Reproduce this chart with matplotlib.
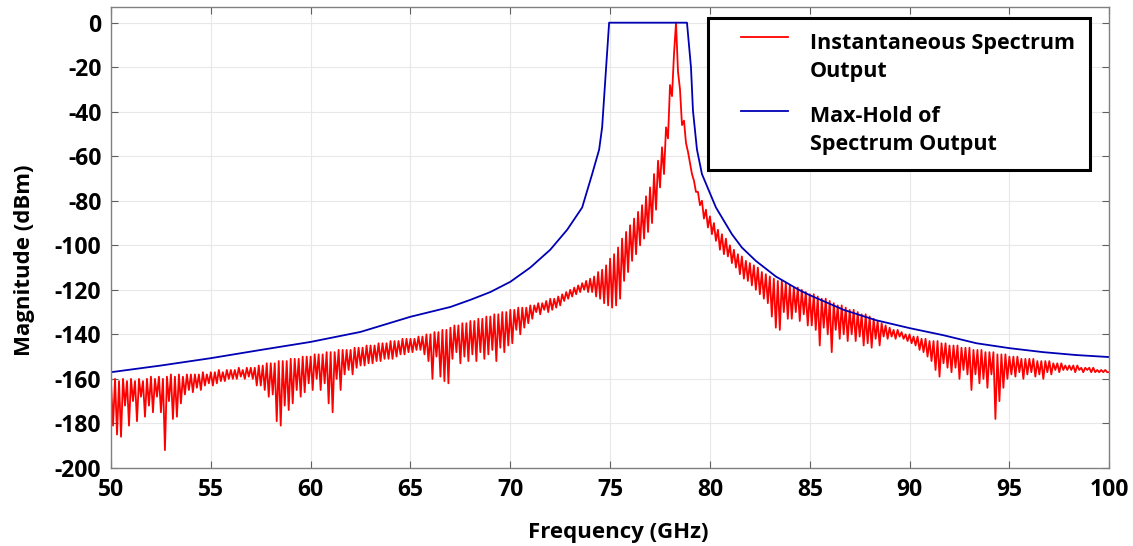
import numpy as np
import matplotlib
matplotlib.use('Agg')
import matplotlib.pyplot as plt
from matplotlib.legend_handler import HandlerLine2D

plt.rcParams['font.family'] = ['Open Sans', 'DejaVu Sans']
plt.rcParams['font.weight'] = 'bold'
plt.rcParams['axes.unicode_minus'] = False

# Instantaneous spectrum, sampled every 0.1 GHz from 50 to 100 GHz (one row per GHz)
red_start, red_step = 50.0, 0.1
red_db = [
    -162, -181, -160, -185, -161, -186, -160, -172, -161, -181,   # 50
    -160, -170, -161, -179, -160, -168, -161, -177, -160, -172,   # 51
    -159, -175, -160, -168, -159, -175, -160, -192, -159, -170,   # 52
    -158, -178, -159, -177, -158, -171, -159, -167, -158, -165,   # 53
    -158, -166, -158, -164, -158, -165, -157, -163, -158, -162,   # 54
    -157, -163, -157, -162, -156, -161, -157, -161, -156, -160,   # 55
    -156, -160, -156, -160, -155, -159, -156, -160, -155, -159,   # 56
    -155, -160, -155, -163, -154, -163, -154, -165, -153, -168,   # 57
    -153, -167, -153, -179, -152, -181, -152, -172, -152, -174,   # 58
    -151, -171, -151, -165, -151, -168, -150, -166, -150, -162,   # 59
    -150, -165, -149, -160, -149, -165, -149, -162, -148, -171,   # 60
    -148, -175, -148, -160, -147, -165, -147, -158, -147, -156,   # 61
    -147, -158, -146, -155, -146, -154, -146, -154, -145, -153,   # 62
    -145, -153, -145, -152, -144, -152, -144, -151, -144, -151,   # 63
    -143, -151, -143, -150, -143, -149, -142, -149, -142, -148,   # 64
    -142, -148, -142, -147, -141, -147, -141, -149, -140, -152,   # 65
    -140, -160, -139, -150, -139, -159, -138, -161, -138, -162,   # 66
    -137, -151, -136, -148, -136, -153, -135, -150, -135, -152,   # 67
    -134, -149, -134, -152, -133, -148, -133, -151, -132, -149,   # 68
    -132, -147, -131, -152, -131, -146, -130, -148, -130, -145,   # 69
    -129, -144, -129, -138, -128, -140, -128, -137, -128, -135,   # 70
    -127, -133, -127, -130, -126, -131, -126, -129, -125, -130,   # 71
    -124, -129, -124, -128, -123, -127, -122, -125, -121, -124,   # 72
    -120, -123, -119, -122, -118, -121, -117, -120, -116, -121,   # 73
    -115, -121, -114, -123, -112, -124, -111, -126, -109, -127,   # 74
    -106, -128, -104, -127, -101, -124, -97, -116, -94, -112,     # 75
    -91, -107, -88, -104, -85, -100, -82, -97, -78, -94,          # 76
    -74, -90, -68, -84, -62, -74, -56, -68, -47, -52,             # 77
    -28, -33, -14, 0, -22, -30, -46, -44, -54, -58,               # 78
    -63, -68, -71, -76, -76, -82, -80, -88, -84, -92,             # 79
    -87, -95, -90, -98, -93, -102, -95, -104, -97, -105,          # 80
    -100, -108, -102, -110, -104, -113, -105, -115, -107, -116,   # 81
    -108, -118, -109, -120, -110, -122, -112, -124, -113, -126,   # 82
    -114, -132, -115, -137, -116, -138, -116, -130, -117, -133,   # 83
    -118, -133, -119, -130, -119, -134, -120, -131, -121, -136,   # 84
    -122, -136, -122, -138, -123, -145, -124, -137, -124, -140,   # 85
    -125, -148, -126, -138, -127, -142, -127, -140, -128, -143,   # 86
    -129, -140, -129, -143, -130, -141, -131, -145, -131, -144,   # 87
    -132, -146, -133, -142, -134, -145, -135, -141, -136, -142,   # 88
    -137, -141, -138, -142, -138, -141, -139, -142, -140, -143,   # 89
    -140, -144, -141, -145, -141, -147, -142, -148, -142, -150,   # 90
    -143, -152, -143, -156, -143, -159, -144, -153, -144, -155,   # 91
    -145, -157, -145, -155, -145, -160, -146, -156, -146, -158,   # 92
    -146, -165, -147, -158, -147, -162, -147, -160, -148, -164,   # 93
    -148, -158, -148, -178, -149, -170, -149, -164, -149, -160,   # 94
    -150, -158, -150, -159, -150, -157, -151, -160, -151, -158,   # 95
    -151, -157, -151, -159, -152, -158, -152, -160, -152, -157,   # 96
    -152, -158, -153, -156, -153, -157, -153, -156, -154, -156,   # 97
    -154, -156, -154, -157, -154, -156, -155, -157, -155, -156,   # 98
    -155, -157, -155, -157, -156, -157, -156, -157, -156, -157,   # 99
    -157,                                                         # 100
]
red_freq = red_start + red_step * np.arange(len(red_db))

# Max-hold envelope
blue_freq = [50, 52.5, 55, 57.5, 60, 62.5, 65, 66, 67, 68, 69, 70, 71, 72, 72.85,
             73.6, 74.1, 74.45, 74.6, 74.8, 74.95, 78.85, 79.05, 79.15, 79.35,
             79.6, 80.3, 81.1, 81.6, 82.3, 83.3, 84.45, 85, 86.7, 88.3, 90,
             91.7, 93.35, 95, 96.7, 98.35, 100]
blue_db = [-157, -154, -150.7, -147, -143.4, -138.9, -132.1, -129.9, -127.7,
           -124.5, -121, -116.4, -110, -102, -93, -83, -68, -57, -47, -20, 0, 0,
           -20, -39.5, -57, -68, -83, -95, -101, -107, -114, -120, -122.4, -129,
           -133.6, -137.2, -140.4, -144, -146.2, -148, -149.3, -150.2]

x_ticks = [50, 55, 60, 65, 70, 75, 80, 85, 90, 95, 100]
y_ticks = [-200, -180, -160, -140, -120, -100, -80, -60, -40, -20, 0]


# legend handle drawn level with the first line of a two-line label,
# and a bit indented from the frame
class FirstLineHandler(HandlerLine2D):
    def create_artists(self, legend, orig_handle, xdescent, ydescent,
                       width, height, fontsize, trans):
        arts = super().create_artists(legend, orig_handle, xdescent, ydescent,
                                      width, height, fontsize, trans)
        for a in arts:
            xd = np.asarray(a.get_xdata(), dtype=float)
            a.set_xdata([xd.min() + 0.85 * fontsize, xd.max()])
            a.set_ydata(np.full(2, np.mean(a.get_ydata()) + 0.95 * fontsize))
        return arts


fig = plt.figure(figsize=(11.33, 5.46), dpi=100)
ax = fig.add_axes([0.098, 0.143, 0.881, 0.844])

red_line, = ax.plot(red_freq, red_db, color='#ff0000', lw=1.3,
                    label='Instantaneous Spectrum\nOutput')
blue_line, = ax.plot(blue_freq, blue_db, color='#0000b4', lw=1.3,
                     label='Max-Hold of\nSpectrum Output')

ax.set_xlim(50, 100)
ax.set_ylim(-200, 7)
ax.set_xticks(x_ticks)
ax.set_yticks(y_ticks)
ax.tick_params(direction='in', top=True, right=True, length=5, color='#606060',
               labelsize=16.5, pad=7)
for lab in ax.get_xticklabels() + ax.get_yticklabels():
    lab.set_fontweight('bold')
for s in ax.spines.values():
    s.set_color('#808080')
    s.set_linewidth(1.0)
ax.grid(True, color='#e8e8e8', lw=0.8)
ax.set_axisbelow(True)

ax.set_xlabel('Frequency (GHz)', fontsize=16, fontweight='bold')
ax.set_ylabel('Magnitude (dBm)', fontsize=16, fontweight='bold')
ax.xaxis.set_label_coords(0.508, -0.117)
ax.yaxis.set_label_coords(-0.076, 0.451)

leg = ax.legend(handles=[red_line, blue_line], loc='upper left',
                bbox_to_anchor=(0.598, 0.651, 0.383, 0.325), mode='expand',
                prop={'weight': 'bold', 'size': 15.5},
                fancybox=False, framealpha=1, edgecolor='black',
                handlelength=3.0, handletextpad=1.05, borderpad=0.7,
                labelspacing=1.15, borderaxespad=0,
                handler_map={red_line: FirstLineHandler(),
                             blue_line: FirstLineHandler()})
leg.get_frame().set_linewidth(2.2)
for t in leg.get_texts():
    t.set_linespacing(1.4)

fig.savefig('out.png', dpi=100)
